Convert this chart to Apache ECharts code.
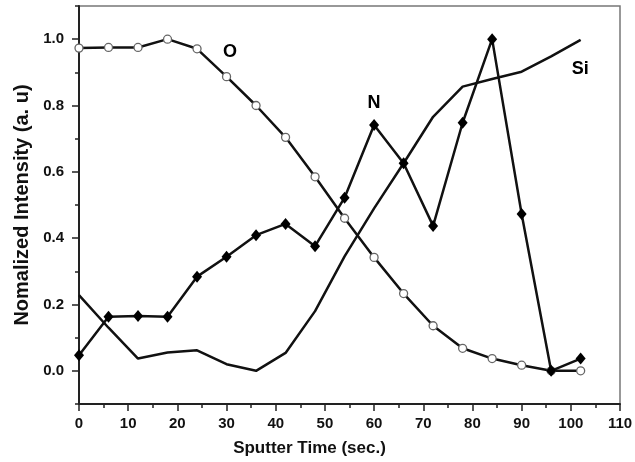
<!DOCTYPE html>
<html>
<head>
<meta charset="utf-8">
<script src="https://cdn.jsdelivr.net/npm/echarts@6/dist/echarts.min.js"></script>
<style>html,body{margin:0;padding:0;background:#fff}#c{width:635px;height:462px}</style>
</head>
<body>
<div id="c"></div>
<script>
const timeX = [0, 6, 12, 18, 24, 30, 36, 42, 48, 54, 60, 66, 72, 78, 84, 90, 96, 102];
const oValues = [0.973, 0.975, 0.975, 1.0, 0.971, 0.887, 0.80, 0.704, 0.585, 0.46, 0.342, 0.233, 0.136, 0.068, 0.037, 0.017, 0.0, 0.0];
const nValues = [0.047, 0.163, 0.165, 0.163, 0.284, 0.344, 0.409, 0.443, 0.376, 0.522, 0.741, 0.626, 0.437, 0.748, 1.0, 0.473, 0.0, 0.037];
const siValues = [0.228, 0.13, 0.037, 0.055, 0.062, 0.02, 0.0, 0.054, 0.18, 0.345, 0.49, 0.626, 0.766, 0.857, 0.88, 0.902, 0.948, 0.998];
const xTicks = [0, 10, 20, 30, 40, 50, 60, 70, 80, 90, 100, 110];
const yTicks = [0.0, 0.2, 0.4, 0.6, 0.8, 1.0];
const seriesLabels = ['O', 'N', 'Si'];
const labelX = [30.7, 60, 101.9];
const labelY = [0.962, 0.807, 0.91];

const pair = (xs, ys) => xs.map((x, i) => [x, ys[i]]);
const FONT = '"Liberation Sans", Arial, sans-serif';
const chart = echarts.init(document.getElementById('c'));
chart.setOption({
  animation: false,
  backgroundColor: '#fff',
  grid: { left: 79, right: 15, top: 6, bottom: 58, containLabel: false, outerBoundsMode: 'none',
    show: true, borderColor: '#777', borderWidth: 1.5 },
  xAxis: {
    type: 'value', min: 0, max: 110, interval: 10,
    name: 'Sputter Time (sec.)', nameLocation: 'middle', nameGap: 36,
    nameTextStyle: { fontFamily: FONT, fontWeight: 'bold', fontSize: 17, color: '#111', padding: [0, 80, 0, 0] },
    axisLine: { onZero: false, lineStyle: { color: '#222', width: 2 } },
    axisTick: { inside: false, length: 7, lineStyle: { color: '#222', width: 1.5 } },
    minorTick: { show: true, splitNumber: 2, length: 4, lineStyle: { color: '#222', width: 1.5 } },
    axisLabel: { fontFamily: FONT, fontWeight: 'bold', fontSize: 15, color: '#111', margin: 12,
      customValues: xTicks },
    splitLine: { show: false }
  },
  yAxis: [{
    type: 'value', min: -0.1, max: 1.1, interval: 0.1,
    name: 'Nomalized Intensity (a. u)', nameLocation: 'middle', nameGap: 47, nameRotate: 90,
    nameTextStyle: { fontFamily: FONT, fontWeight: 'bold', fontSize: 20, color: '#111' },
    axisLine: { onZero: false, lineStyle: { color: '#222', width: 2 } },
    axisTick: { inside: false, length: 4, lineStyle: { color: '#222', width: 1.5 } },
    axisLabel: { show: false },
    splitLine: { show: false }
  }, {
    type: 'value', min: -0.1, max: 1.1, position: 'left',
    axisLine: { show: false },
    axisTick: { show: true, length: 7, customValues: yTicks, lineStyle: { color: '#222', width: 1.5 } },
    axisLabel: { fontFamily: FONT, fontWeight: 'bold', fontSize: 15, color: '#111', margin: 15,
      customValues: yTicks, formatter: v => v.toFixed(1) },
    splitLine: { show: false }
  }],
  series: [
    {
      type: 'line', name: 'Si', data: pair(timeX, siValues), showSymbol: false, symbol: 'none',
      lineStyle: { color: '#111', width: 2.5 }, z: 2
    },
    {
      type: 'line', name: 'O', data: pair(timeX, oValues), symbol: 'circle', symbolSize: 8,
      lineStyle: { color: '#111', width: 2.5 },
      itemStyle: { color: '#fff', borderColor: '#666', borderWidth: 1.3 }, z: 3
    },
    {
      type: 'line', name: 'N', data: pair(timeX, nValues), symbol: 'diamond', symbolSize: [10, 12],
      lineStyle: { color: '#111', width: 2.5 },
      itemStyle: { color: '#000' }, z: 4
    },
    {
      type: 'scatter', symbolSize: 0, silent: true,
      itemStyle: { opacity: 1, color: '#111' },
      data: seriesLabels.map((n, i) => ({ name: n, value: [labelX[i], labelY[i]] })),
      label: { show: true, position: 'inside', formatter: p => p.name, textBorderWidth: 0, opacity: 1,
        fontFamily: FONT, fontWeight: 'bold', fontSize: 18, color: '#000' }
    }
  ]
});
</script>
</body>
</html>
